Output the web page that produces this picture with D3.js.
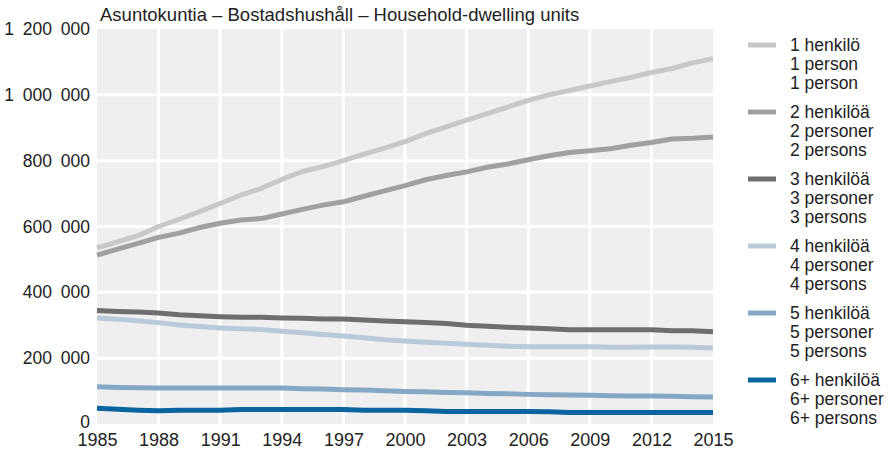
<!DOCTYPE html>
<html>
<head>
<meta charset="utf-8">
<script src="https://cdn.jsdelivr.net/npm/d3@7"></script>
<style>
  body { margin: 0; background: #fff; }
  text { font-family: "Liberation Sans", Arial, sans-serif; fill: #222; }
</style>
</head>
<body>
<svg width="891" height="449"></svg>
<script>
(function (d3) {
  'use strict'

  const years = d3.range(1985, 2016)

  // thousands of household-dwelling units
  const onePerson = [535, 553, 572, 600, 622, 645, 670, 695, 716, 743, 767, 782, 800, 820, 838, 858,
    882, 903, 923, 943, 963, 983, 1000, 1013, 1027, 1040, 1053, 1068, 1080, 1097, 1110]
  const twoPersons = [513, 531, 549, 567, 580, 597, 610, 620, 624, 638, 652, 665, 675, 692, 708, 724,
    742, 755, 766, 780, 790, 803, 815, 825, 830, 836, 847, 855, 866, 868, 872]
  const threePersons = [345, 342, 340, 337, 332, 329, 326, 324, 324, 322, 321, 319, 319, 316, 313, 311,
    308, 305, 300, 297, 294, 292, 289, 286, 286, 286, 286, 286, 283, 283, 280]
  const fourPersons = [322, 318, 314, 308, 301, 296, 292, 289, 287, 282, 277, 272, 267, 262, 256, 252,
    248, 245, 242, 239, 236, 235, 235, 235, 235, 233, 233, 234, 234, 233, 231]
  const fivePersons = [113, 111, 110, 109, 109, 109, 109, 109, 109, 109, 107, 106, 104, 103, 101, 99,
    98, 96, 95, 93, 92, 90, 89, 88, 87, 86, 85, 85, 84, 83, 82]
  const sixPlus = [48, 45, 42, 40, 42, 42, 42, 44, 44, 44, 44, 44, 44, 42, 42, 42,
    40, 38, 38, 38, 38, 38, 37, 35, 35, 35, 35, 35, 35, 35, 35]

  const seriesLabels = [
    ['1 henkilö', '1 person', '1 person'],
    ['2 henkilöä', '2 personer', '2 persons'],
    ['3 henkilöä', '3 personer', '3 persons'],
    ['4 henkilöä', '4 personer', '4 persons'],
    ['5 henkilöä', '5 personer', '5 persons'],
    ['6+ henkilöä', '6+ personer', '6+ persons']
  ]
  const seriesValues = [onePerson, twoPersons, threePersons, fourPersons, fivePersons, sixPlus]
  const colors = ['#c8c8c8', '#a0a0a0', '#6e6e6e', '#bacadb', '#86a8c4', '#0a64a0']

  const xTicks = d3.range(1985, 2016, 3)
  const yTicks = [0, 200000, 400000, 600000, 800000, 1000000, 1200000]
  const title = 'Asuntokuntia – Bostadshushåll – Household-dwelling units'

  const margin = { left: 97, right: 713, top: 29, bottom: 424 }

  const x = d3.scaleLinear().domain([1985, 2015]).range([margin.left, margin.right])
  const y = d3.scaleLinear().domain([0, 1200000]).range([margin.bottom, margin.top])

  const fmt = d3.formatLocale({ decimal: ',', thousands: '\u2002', grouping: [3], currency: ['', ''] }).format(',d')

  const svg = d3.select('svg')

  svg.append('rect')
    .attr('x', margin.left).attr('y', margin.top)
    .attr('width', margin.right - margin.left)
    .attr('height', margin.bottom - margin.top)
    .attr('fill', '#efefef')

  // grid
  svg.append('g').selectAll('line.v')
    .data(xTicks.filter(function (t) { return t > 1985 && t < 2015 }))
    .enter().append('line')
    .attr('x1', function (d) { return x(d) }).attr('x2', function (d) { return x(d) })
    .attr('y1', margin.top).attr('y2', margin.bottom)
    .attr('stroke', '#fff').attr('stroke-width', 3)

  svg.append('g').selectAll('line.h')
    .data(yTicks.filter(function (t) { return t > 0 && t < 1200000 }))
    .enter().append('line')
    .attr('y1', function (d) { return y(d) }).attr('y2', function (d) { return y(d) })
    .attr('x1', margin.left).attr('x2', margin.right)
    .attr('stroke', '#fff').attr('stroke-width', 3)

  // axes
  const yAxis = d3.axisLeft(y).tickValues(yTicks).tickFormat(fmt).tickSize(0).tickPadding(7)
  const yg = svg.append('g').attr('transform', 'translate(' + margin.left + ',0)').call(yAxis)
  yg.select('.domain').remove()
  yg.selectAll('text').style('font-size', '17.5px').attr('fill', '#222')
  yg.selectAll('.tick').filter(function (d) { return d === 0 }).select('text').attr('dy', '0.2em')

  const xAxis = d3.axisBottom(x).tickValues(xTicks).tickFormat(d3.format('d')).tickSize(0).tickPadding(9)
  const xg = svg.append('g').attr('transform', 'translate(0,' + margin.bottom + ')').call(xAxis)
  xg.select('.domain').remove()
  xg.selectAll('text').style('font-size', '18px').attr('fill', '#222')

  // lines
  const line = d3.line()
    .x(function (d, i) { return x(years[i]) })
    .y(function (d) { return y(d * 1000) })

  svg.append('g').selectAll('path')
    .data(seriesValues)
    .enter().append('path')
    .attr('d', line)
    .attr('fill', 'none')
    .attr('stroke', function (d, i) { return colors[i] })
    .attr('stroke-width', 5)
    .attr('stroke-linejoin', 'round')

  svg.append('text')
    .attr('x', 100).attr('y', 21)
    .style('font-size', '18.5px')
    .text(title)

  // legend
  const legend = svg.append('g').attr('class', 'legend')
  const item = legend.selectAll('g')
    .data(seriesLabels)
    .enter().append('g')
    .attr('transform', function (d, i) { return 'translate(748,' + (45 + i * 67) + ')' })

  item.append('line')
    .attr('x1', 0).attr('x2', 28).attr('y1', 0).attr('y2', 0)
    .attr('stroke', function (d, i) { return colors[i] })
    .attr('stroke-width', 5)

  item.selectAll('text')
    .data(function (d) { return d })
    .enter().append('text')
    .attr('x', 42)
    .attr('y', function (d, i) { return i * 18.8 })
    .attr('dy', '0.35em')
    .style('font-size', '17.5px')
    .text(function (d) { return d })
}(d3))
</script>
</body>
</html>
